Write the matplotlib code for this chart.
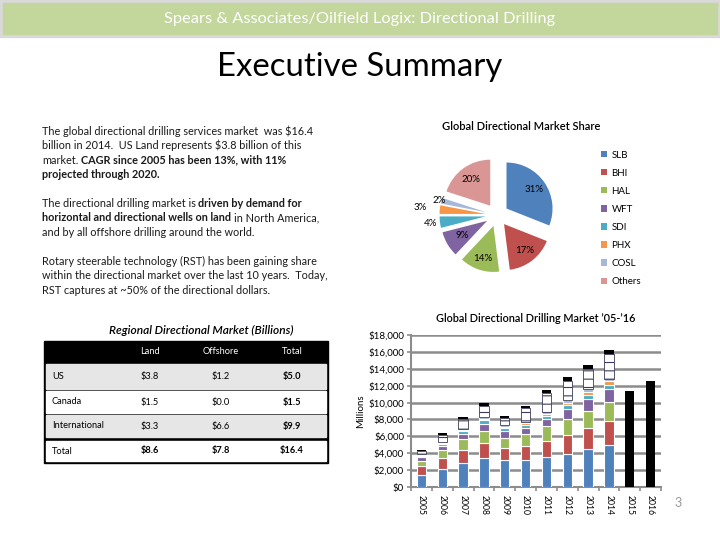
import math
import matplotlib
matplotlib.use('Agg')
import matplotlib.pyplot as plt
from matplotlib.patches import Rectangle
from matplotlib.ticker import FuncFormatter

plt.rcParams['font.family'] = ['Lato', 'DejaVu Sans']
plt.rcParams['hatch.linewidth'] = 0.8

# market share 2014 (pie)
share_labels = ['SLB', 'BHI', 'HAL', 'WFT', 'SDI', 'PHX', 'COSL', 'Others']
share_values = [31, 17, 14, 9, 4, 3, 2, 20]
share_colors = ['#4f81bd', '#c0504d', '#9bbb59', '#8064a2', '#4bacc6', '#f79646', '#a6b8d8', '#d99694']

# market by year, $ millions (stacked bars)
years = ['2005', '2006', '2007', '2008', '2009', '2010', '2011', '2012', '2013', '2014', '2015', '2016']
slb = [1450, 2150, 2900, 3450, 3250, 3250, 3550, 3950, 4500, 5000]
bhi = [1050, 1300, 1500, 1750, 1350, 1650, 1950, 2250, 2450, 2850]
hal = [550, 950, 1300, 1450, 1250, 1400, 1700, 1800, 2000, 2250]
wft = [450, 450, 600, 800, 750, 700, 850, 1200, 1450, 1450]
sdi = [200, 250, 300, 450, 350, 350, 400, 500, 450, 550]
phx = [100, 150, 150, 200, 200, 200, 250, 300, 400, 400]
cosl = [100, 100, 150, 150, 150, 150, 200, 250, 300, 300]
small_players = [350, 850, 1100, 1300, 850, 1600, 2200, 2350, 2400, 2900]
undisclosed = [100, 200, 300, 450, 250, 250, 400, 400, 450, 500]
forecast = [11400, 12500]   # 2015, 2016 totals

# regional table, $ billions
regions = ['US', 'Canada', 'International', 'Total']
land = ['$3.8', '$1.5', '$3.3', '$8.6']
offshore = ['$1.2', '$0.0', '$6.6', '$7.8']
total = ['$5.0', '$1.5', '$9.9', '$16.4']

paragraphs = [
    [[('The global directional drilling services market  was $16.4', False)],
     [('billion in 2014.  US Land represents $3.8 billion of this', False)],
     [('market.', False), ('CAGR since 2005 has been 13%, with 11%', True)],
     [('projected through 2020.', True)]],
    [[('The directional drilling market is', False), ('driven by demand for', True)],
     [('horizontal and directional wells on land', True), (' in North America,', False)],
     [('and by all offshore drilling around the world.', False)]],
    [[('Rotary steerable technology (RST) has been gaining share', False)],
     [('within the directional market over the last 10 years.  Today,', False)],
     [('RST captures at ~50% of the directional dollars.', False)]],
]

fig = plt.figure(figsize=(7.2, 5.4), dpi=100)
bg = fig.add_axes([0, 0, 1, 1])
bg.set_xlim(0, 720)
bg.set_ylim(540, 0)
bg.axis('off')
renderer = fig.canvas.get_renderer()

# header
bg.add_patch(Rectangle((0, 0), 720, 37, color='#d9d9d9'))
bg.add_patch(Rectangle((3, 3), 714, 31, color='#c3d69b'))
bg.text(360, 18.5, 'Spears & Associates/Oilfield Logix: Directional Drilling',
        ha='center', va='center', color='white', fontsize=11.8)
bg.text(360, 67, 'Executive Summary', ha='center', va='center', fontsize=23.7)
bg.text(678, 503, '3', ha='center', va='center', color='#9a9a9a', fontsize=9)


def text_width(s, bold, size):
    t = bg.text(0, 0, s, fontsize=size, fontweight='bold' if bold else 'normal')
    w = t.get_window_extent(renderer).width
    t.remove()
    return w


def rich_line(x, y, runs, size=7.8):
    for i, (s, bold) in enumerate(runs):
        lead = len(s) - len(s.lstrip(' '))
        if i > 0 and lead == 0:
            lead = 1
        if lead:
            x += lead * (text_width('x x', bold, size) - text_width('xx', bold, size))
        s = s.lstrip(' ')
        t = bg.text(x, y, s, fontsize=size, fontweight='bold' if bold else 'normal',
                    ha='left', va='baseline', color='#1a1a1a')
        x += t.get_window_extent(renderer).width


para_tops = [135, 207, 265]
for top, lines in zip(para_tops, paragraphs):
    for k, runs in enumerate(lines):
        rich_line(42, top + k * 14.3, runs)

# table
bg.text(201, 330, 'Regional Directional Market (Billions)', ha='center', va='center',
        fontsize=8.6, style='italic', fontweight='semibold')
bg.add_patch(Rectangle((44, 341), 284, 122, color='black'))
row_boxes = [(364, 388.5, '#e6e6e6'), (391, 413, 'white'), (415, 437, '#e6e6e6'), (441, 461, 'white')]
for (y0, y1, c) in row_boxes:
    bg.add_patch(Rectangle((46, y0), 280, y1 - y0, color=c))
col_x = [150, 221, 292]
for cx, h in zip(col_x, ['Land', 'Offshore', 'Total']):
    bg.text(cx, 352, h, ha='center', va='center', color='white', fontsize=6.7)
for i, (y0, y1, c) in enumerate(row_boxes):
    ym = (y0 + y1) / 2
    bg.text(52, ym, regions[i], ha='left', va='center', fontsize=6.7)
    vals = [land[i], offshore[i], total[i]]
    for j, v in enumerate(vals):
        b = (j == 2) or (i == 3)
        bg.text(col_x[j], ym, v, ha='center', va='center', fontsize=6.7,
                fontweight='bold' if b else 'normal')

# pie
R = 46
L = 1.7
cxp, cyp = 497, 215
pax = fig.add_axes([(cxp - L * R) / 720, 1 - (cyp + L * R) / 540, 2 * L * R / 720, 2 * L * R / 540])
wedges, _ = pax.pie(share_values, colors=share_colors, startangle=90, counterclock=False,
                    explode=[0.25] * len(share_values), wedgeprops=dict(linewidth=0))
pax.set_xlim(-L, L)
pax.set_ylim(-L, L)
pax.set_aspect('equal')
pax.axis('off')
label_r = [0.72, 0.72, 0.75, 0.62, 1.2, 1.42, 1.05, 0.7]
for w, v, r in zip(wedges, share_values, label_r):
    ang = math.radians((w.theta1 + w.theta2) / 2)
    x0, y0 = w.center
    pax.text(x0 + r * math.cos(ang), y0 + r * math.sin(ang), f'{v}%',
             ha='center', va='center', fontsize=7)
fig.text(521 / 720, 1 - 127 / 540, 'Global Directional Market Share', ha='center', va='center',
         fontsize=8, fontweight='semibold')
fig.legend(wedges, share_labels, loc='upper left', bbox_to_anchor=(592 / 720, 1 - 142 / 540),
           frameon=False, fontsize=7, handlelength=0.6, handleheight=0.6,
           handletextpad=0.5, labelspacing=0.93)

# stacked bars
bax = fig.add_axes([411 / 720, 1 - 487 / 540, 250 / 720, 152 / 540])
n = len(slb)
xs = list(range(n))
bottom = [0] * n
series = [(slb, share_colors[0]), (bhi, share_colors[1]), (hal, share_colors[2]), (wft, share_colors[3]),
          (sdi, share_colors[4]), (phx, share_colors[5]), (cosl, share_colors[6])]
for vals, c in series:
    bax.bar(xs, vals, 0.45, bottom=bottom, color=c, edgecolor='white', linewidth=0.8, zorder=3)
    bottom = [b + v for b, v in zip(bottom, vals)]
bax.bar(xs, small_players, 0.45, bottom=bottom, facecolor='white', edgecolor='#3c3c5a',
        hatch='--', linewidth=0.6, zorder=3)
bottom = [b + v for b, v in zip(bottom, small_players)]
bax.bar(xs, undisclosed, 0.45, bottom=bottom, color='black', zorder=3)
bax.bar([n, n + 1], forecast, 0.45, color='black', zorder=3)

bax.set_xlim(-0.5, len(years) - 0.5)
bax.set_ylim(0, 18000)
bax.set_yticks(range(0, 18001, 2000))
bax.yaxis.set_major_formatter(FuncFormatter(lambda v, p: f'${v:,.0f}'))
bax.set_xticks(range(len(years)))
bax.set_xticklabels(years, rotation=270, fontsize=6.2)
bax.set_xticks([i + 0.5 for i in range(-1, len(years))], minor=True)
bax.tick_params(axis='x', which='major', length=0, pad=6)
bax.tick_params(axis='x', which='minor', length=3, color='#8c8c8c', width=1.2)
bax.tick_params(axis='y', length=3, color='#8c8c8c', width=1.2, labelsize=7, pad=2)
bax.grid(axis='y', color='#8c8c8c', linewidth=1.8, zorder=0)
bax.set_axisbelow(True)
for s in ['top', 'right']:
    bax.spines[s].set_visible(False)
for s in ['left', 'bottom']:
    bax.spines[s].set_color('#8c8c8c')
    bax.spines[s].set_linewidth(1.5)
bax.set_ylabel('Millions', fontsize=7, labelpad=2)
bax.set_title('Global Directional Drilling Market \u201905-\u201916', fontsize=7.8,
              fontweight='semibold', pad=9)

fig.savefig('out.png', dpi=100)
